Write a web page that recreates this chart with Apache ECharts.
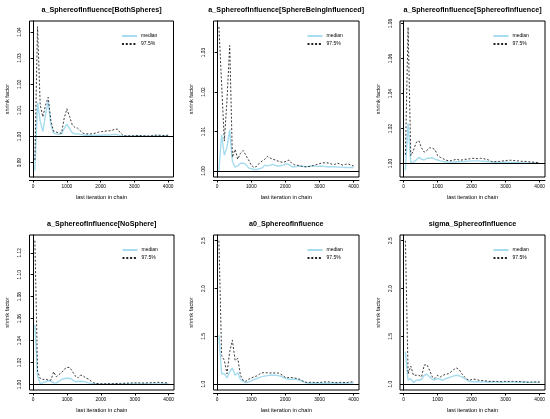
<!DOCTYPE html>
<html>
<head>
<meta charset="utf-8">
<script src="https://cdn.jsdelivr.net/npm/echarts@6/dist/echarts.min.js"></script>
<style>
html,body{margin:0;padding:0;background:#fff;}
#chart{width:550px;height:419px;}
</style>
</head>
<body>
<div id="chart"></div>
<script>
// ---------------- data ----------------
const iterations = [51,130,209,288,367,446,525,604,683,762,841,920,999,1078,1157,1236,1315,1394,1473,1552,
  1631,1710,1789,1868,1947,2026,2105,2184,2263,2342,2421,2500,2579,2658,2737,2816,2895,2974,3053,3132,
  3211,3290,3369,3448,3527,3606,3685,3764,3843,3922,4000];

const titles = [
  "a_SphereofInfluence[BothSpheres]",
  "a_SphereofInfluence[SphereBeingInfluenced]",
  "a_SphereofInfluence[SphereofInfluence]",
  "a_SphereofInfluence[NoSphere]",
  "a0_SphereofInfluence",
  "sigma_SphereofInfluence"
];
const seriesNames = ["median", "97.5%"];
const xTicks = [0, 1000, 2000, 3000, 4000];
const yTicks1 = [0.99, 1.00, 1.01, 1.02, 1.03, 1.04];
const yTicks2 = [1.00, 1.01, 1.02, 1.03];
const yTicks3 = [1.00, 1.02, 1.04, 1.06, 1.08];
const yTicks4 = [1.00, 1.02, 1.04, 1.06, 1.08, 1.10, 1.12];
const yTicks5 = [1.0, 1.5, 2.0, 2.5];
const yTicks6 = [1.0, 1.5, 2.0, 2.5];

const medianBoth = [0.987,1.013,1.0058,1.002,1.0083,1.0135,1.0045,1.0013,1.001,1.0008,
  1.001,1.003,1.0047,1.003,1.0015,1.001,1.001,1.0008,1.0006,1.0005,
  1.0005,1.0004,1.0004,1.0005,1.0005,1.0005,1.0006,1.0006,1.0006,1.0007,
  1.0008,1.0007,1.0003,1.0002,1.0001,1.0001,1.0001,1.0001,1.0002,1.0002,
  1.0001,1.0001,1.0001,1.0001,1.0001,1.0002,1.0002,1.0002,1.0002,1.0002,
  1.0002];
const upperBoth = [0.991,1.042,1.012,1.0075,1.012,1.015,1.006,1.002,1.0017,1.0013,
  1.0013,1.007,1.0106,1.0077,1.0045,1.0035,1.0032,1.0022,1.0013,1.001,
  1.001,1.001,1.0011,1.0014,1.0017,1.0019,1.0019,1.0022,1.0022,1.0024,
  1.0028,1.0028,1.0015,1.0005,1.0003,1.0003,1.0002,1.0003,1.0004,1.0004,
  1.0003,1.0003,1.0002,1.0002,1.0003,1.0005,1.0005,1.0005,1.0004,1.0004,
  1.0005];

const medianBeing = [1.000,1.0092,1.004,1.006,1.0105,1.0025,1.001,1.0013,1.002,1.002,
  1.0017,1.0008,1.0006,1.0004,1.0004,1.0006,1.0008,1.0015,1.0013,1.0015,
  1.0017,1.0014,1.0013,1.0014,1.0015,1.0019,1.0017,1.0011,1.0011,1.0012,
  1.0013,1.0012,1.0011,1.0012,1.0013,1.0013,1.0012,1.0012,1.0013,1.0012,
  1.0011,1.0011,1.0011,1.0011,1.001,1.001,1.001,1.0009,1.0009,1.0009,
  1.0008];
const upperBeing = [1.0365,1.022,1.0076,1.018,1.0318,1.0035,1.0055,1.003,1.0045,1.0052,
  1.004,1.0028,1.0015,1.0009,1.0012,1.002,1.0025,1.003,1.0037,1.0033,
  1.003,1.0028,1.0025,1.0023,1.0022,1.0025,1.0028,1.002,1.0016,1.0015,
  1.0013,1.0012,1.0011,1.0011,1.0012,1.0014,1.0016,1.0018,1.002,1.0021,
  1.0021,1.002,1.0017,1.0017,1.002,1.0018,1.0015,1.0017,1.0018,1.0015,
  1.0013];

const medianSphere = [0.9962,1.023,1.0006,1.0008,1.002,1.0035,1.0025,1.002,1.003,1.003,
  1.0033,1.0025,1.002,1.0015,1.0012,1.001,1.0008,1.0008,1.0009,1.001,
  1.001,1.0011,1.0012,1.0013,1.0014,1.0015,1.0015,1.0015,1.0014,1.0013,
  1.0012,1.001,1.0008,1.0007,1.0006,1.0006,1.0006,1.0007,1.0007,1.0006,
  1.0006,1.0005,1.0005,1.0004,1.0004,1.0004,1.0003,1.0003,1.0003,1.0002,
  1.0002];
const upperSphere = [1.005,1.078,1.0045,1.0075,1.012,1.013,1.009,1.0065,1.0075,1.009,
  1.0088,1.008,1.0045,1.0035,1.0028,1.002,1.0016,1.0016,1.002,1.0025,
  1.002,1.002,1.0024,1.0025,1.0027,1.003,1.0028,1.0028,1.003,1.0028,
  1.0025,1.002,1.0012,1.001,1.0012,1.0012,1.0015,1.0015,1.0018,1.0019,
  1.0018,1.0016,1.0015,1.0013,1.0012,1.0012,1.001,1.0008,1.0008,1.0006,
  1.0004];

const medianNo = [1.0545,1.008,1.001,1.0015,1.0025,1.0034,1.003,1.0015,1.0015,1.003,
  1.0046,1.0055,1.0057,1.0055,1.0046,1.0025,1.0028,1.003,1.0028,1.0022,
  1.0015,1.001,1.0006,1.0004,1.0003,1.0003,1.0003,1.0003,1.0003,1.0003,
  1.0003,1.0003,1.0003,1.0003,1.0004,1.0004,1.0004,1.0004,1.0004,1.0004,
  1.0004,1.0004,1.0004,1.0004,1.0004,1.0005,1.0005,1.0004,1.0004,1.0004,
  1.0004];
const upperNo = [1.131,1.012,1.0055,1.0046,1.005,1.004,1.004,1.0116,1.007,1.009,
  1.011,1.014,1.0156,1.0155,1.012,1.008,1.006,1.0085,1.008,1.006,
  1.005,1.003,1.0015,1.001,1.0008,1.0007,1.0007,1.0007,1.0008,1.0009,
  1.0009,1.001,1.001,1.0011,1.0012,1.0013,1.0014,1.0015,1.0015,1.0015,
  1.0014,1.0014,1.0015,1.0016,1.0017,1.0018,1.002,1.0018,1.0016,1.0015,
  1.0015];

const medianA0 = [1.514,1.11,1.11,1.066,1.13,1.17,1.094,1.12,1.05,1.03,
  1.017,1.024,1.035,1.049,1.06,1.07,1.08,1.087,1.09,1.094,
  1.094,1.094,1.09,1.084,1.07,1.056,1.053,1.053,1.052,1.049,
  1.042,1.03,1.017,1.012,1.011,1.01,1.01,1.01,1.01,1.011,
  1.011,1.011,1.01,1.01,1.01,1.01,1.011,1.011,1.012,1.012,
  1.012];
const upperA0 = [2.50,1.30,1.25,1.11,1.34,1.46,1.25,1.27,1.094,1.04,
  1.03,1.052,1.066,1.077,1.087,1.105,1.12,1.12,1.12,1.118,
  1.118,1.118,1.118,1.105,1.084,1.066,1.07,1.07,1.066,1.06,
  1.052,1.035,1.024,1.017,1.02,1.02,1.017,1.02,1.02,1.024,
  1.024,1.024,1.02,1.017,1.017,1.02,1.02,1.017,1.02,1.024,
  1.024];

const medianSigma = [1.34,1.042,1.06,1.017,1.042,1.042,1.052,1.094,1.105,1.077,
  1.052,1.045,1.06,1.052,1.042,1.06,1.066,1.077,1.087,1.094,
  1.087,1.077,1.06,1.042,1.03,1.027,1.027,1.026,1.025,1.025,
  1.024,1.024,1.024,1.023,1.023,1.023,1.022,1.022,1.022,1.022,
  1.022,1.022,1.021,1.021,1.021,1.021,1.02,1.02,1.02,1.02,
  1.02];
const upperSigma = [2.50,1.11,1.19,1.094,1.094,1.094,1.077,1.20,1.206,1.147,
  1.077,1.06,1.094,1.077,1.094,1.105,1.11,1.13,1.154,1.17,
  1.154,1.11,1.077,1.052,1.042,1.052,1.052,1.045,1.038,1.038,
  1.035,1.03,1.03,1.03,1.03,1.027,1.027,1.03,1.03,1.03,
  1.03,1.027,1.03,1.027,1.024,1.024,1.02,1.024,1.024,1.024,
  1.024];

// ---------------- layout ----------------
const FONT = '"Liberation Sans", Arial, sans-serif';
const panels = [
  {left: 29.5, top: 21,  width: 144,   height: 156, ymin: 0.9845, ymax: 1.0442, ticks: yTicks1, dec: 2, med: medianBoth,  up: upperBoth},
  {left: 213.5,top: 21,  width: 145.5, height: 156, ymin: 0.9985, ymax: 1.0380, ticks: yTicks2, dec: 2, med: medianBeing, up: upperBeing},
  {left: 400,  top: 21,  width: 145,   height: 156, ymin: 0.9923, ymax: 1.0815, ticks: yTicks3, dec: 2, med: medianSphere,up: upperSphere},
  {left: 29.5, top: 235, width: 144.5, height: 155, ymin: 0.9950, ymax: 1.1362, ticks: yTicks4, dec: 2, med: medianNo,    up: upperNo},
  {left: 213.5,top: 235, width: 145.5, height: 155, ymin: 0.94,   ymax: 2.56,   ticks: yTicks5, dec: 1, med: medianA0,    up: upperA0},
  {left: 400,  top: 235, width: 145,   height: 155, ymin: 0.94,   ymax: 2.56,   ticks: yTicks6, dec: 1, med: medianSigma, up: upperSigma}
];

const grid = [], xAxis = [], yAxis = [], title = [], legend = [], series = [];
panels.forEach((p, k) => {
  grid.push({left: p.left, top: p.top, width: p.width, height: p.height,
    show: true, borderColor: '#000', borderWidth: 1, backgroundColor: 'transparent'});
  xAxis.push({
    gridIndex: k, type: 'value', min: -108, max: 4158, offset: 3,
    axisLine: {show: true, lineStyle: {color: '#000', width: 1}},
    axisTick: {show: true, length: 2.5, customValues: xTicks, lineStyle: {color: '#000', width: 1}},
    axisLabel: {customValues: xTicks, fontSize: 4.8, color: '#000', margin: 4, fontFamily: FONT,
      formatter: (v) => String(Math.round(v))},
    splitLine: {show: false},
    name: 'last iteration in chain', nameLocation: 'middle', nameGap: 14,
    nameTextStyle: {fontSize: 5.6, color: '#000', fontFamily: FONT}
  });
  yAxis.push({
    gridIndex: k, type: 'value', min: p.ymin, max: p.ymax, offset: 3,
    axisLine: {show: true, lineStyle: {color: '#000', width: 1}},
    axisTick: {show: true, length: 2.5, customValues: p.ticks, lineStyle: {color: '#000', width: 1}},
    axisLabel: {customValues: p.ticks, rotate: 90, fontSize: 4.8, color: '#000', margin: 4, fontFamily: FONT,
      formatter: (v) => Number(v).toFixed(p.dec)},
    splitLine: {show: false},
    name: 'shrink factor', nameLocation: 'middle', nameGap: 16, nameRotate: 90,
    nameTextStyle: {fontSize: 5.6, color: '#000', fontFamily: FONT}
  });
  title.push({
    text: titles[k], left: p.left + p.width / 2, top: p.top - 14.5, textAlign: 'center',
    padding: 0,
    textStyle: {fontSize: 7.2, fontWeight: 'bold', color: '#000', fontFamily: FONT}
  });
  legend.push({
    data: seriesNames, orient: 'vertical', left: p.left + p.width - 52.5, top: p.top + 12.5,
    padding: 0, itemWidth: 15, itemHeight: 5, itemGap: 3, selectedMode: false,
    itemStyle: {opacity: 0, borderWidth: 0},
    textStyle: {fontSize: 5, color: '#000', fontFamily: FONT, padding: [0, 0, 0, -1]}
  });
  series.push({
    name: seriesNames[0], type: 'line', xAxisIndex: k, yAxisIndex: k, symbol: 'none',
    data: iterations.map((x, i) => [x, p.med[i]]),
    lineStyle: {color: '#a6dcef', width: 1.4, type: 'solid'}, itemStyle: {color: '#a6dcef'},
    markLine: {silent: true, symbol: 'none', label: {show: false},
      lineStyle: {color: '#000', width: 1, type: 'solid'}, data: [{yAxis: 1}]}
  });
  series.push({
    name: seriesNames[1], type: 'line', xAxisIndex: k, yAxisIndex: k, symbol: 'none',
    data: iterations.map((x, i) => [x, p.up[i]]),
    lineStyle: {color: '#222', width: 0.9, type: [2, 1.8]}, itemStyle: {color: '#222'}
  });
});

const chart = echarts.init(document.getElementById('chart'), null, {renderer: 'canvas'});
chart.setOption({animation: false, backgroundColor: '#fff', title, legend, grid, xAxis, yAxis, series});
</script>
</body>
</html>
